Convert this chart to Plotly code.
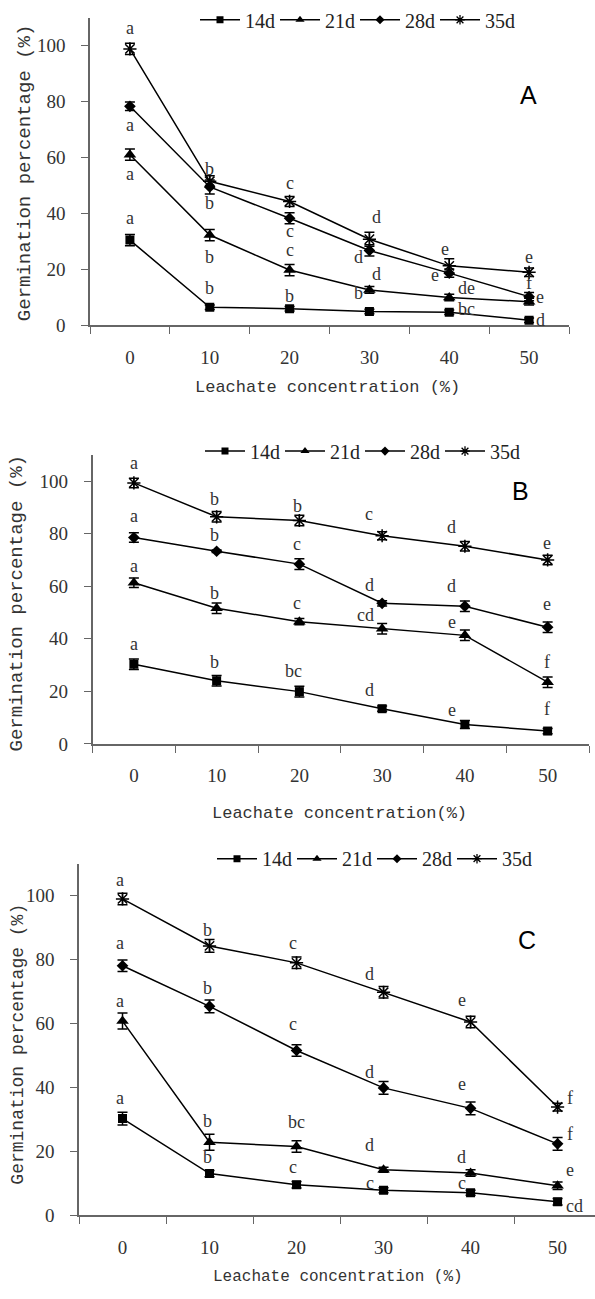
import plotly.graph_objects as go

# ---------------- data ----------------
conc = ["0", "10", "20", "30", "40", "50"]
series_names = ["14d", "21d", "28d", "35d"]

# Panel A
a_14 = [30.5, 6.5, 6.0, 5.0, 4.7, 1.9]
a_21 = [61.0, 32.3, 19.8, 12.7, 10.0, 8.5]
a_28 = [78.3, 49.5, 38.3, 26.8, 18.7, 10.3]
a_35 = [98.8, 51.5, 44.3, 30.8, 21.3, 19.0]
a_14_err = [2.0, 0.8, 0.8, 0.8, 0.8, 0.8]
a_21_err = [2.0, 2.0, 2.0, 1.2, 1.2, 1.2]
a_28_err = [1.5, 2.5, 2.0, 2.0, 1.5, 1.5]
a_35_err = [2.0, 2.0, 1.8, 2.5, 2.5, 1.5]

# Panel B
b_14 = [30.3, 24.0, 19.9, 13.4, 7.4, 4.9]
b_21 = [61.3, 51.6, 46.5, 43.8, 41.3, 23.5]
b_28 = [78.5, 73.3, 68.4, 53.5, 52.4, 44.4]
b_35 = [99.3, 86.4, 85.0, 79.2, 75.2, 70.0]
b_14_err = [2.0, 2.0, 2.0, 1.0, 1.5, 1.0]
b_21_err = [1.8, 2.0, 1.2, 2.0, 2.0, 2.0]
b_28_err = [1.8, 0.5, 2.0, 1.0, 2.0, 2.0]
b_35_err = [1.8, 2.0, 2.0, 1.5, 1.8, 1.8]

# Panel C
c_14 = [30.3, 13.1, 9.6, 7.9, 7.1, 4.3]
c_21 = [60.8, 22.9, 21.6, 14.3, 13.3, 9.3]
c_28 = [78.1, 65.4, 51.6, 39.9, 33.5, 22.4]
c_35 = [99.0, 84.3, 79.0, 69.8, 60.5, 33.9]
c_14_err = [2.0, 1.0, 1.0, 0.8, 0.8, 1.0]
c_21_err = [2.5, 2.5, 1.8, 0.8, 1.0, 1.2]
c_28_err = [1.8, 2.0, 1.8, 2.0, 2.0, 2.0]
c_35_err = [1.8, 2.0, 1.8, 1.8, 1.8, 1.2]

# significance letters: (category index, y value, text, x shift px)
a_letters = [
    (0, 106.4, "a", 0), (0, 71.7, "a", 0), (0, 54.0, "a", 0), (0, 38.5, "a", 0),
    (1, 56.0, "b", 0), (1, 43.7, "b", 0), (1, 24.4, "b", 0), (1, 13.4, "b", 0),
    (2, 51.0, "c", 0), (2, 33.8, "c", 0), (2, 27.0, "c", 0), (2, 10.6, "b", 0),
    (3, 38.9, "d", 7), (3, 24.4, "d", -11), (3, 18.3, "d", 7), (3, 11.6, "b", -11),
    (4, 27.2, "e", -4), (4, 18.0, "e", -14), (4, 13.4, "de", 17), (4, 6.0, "bc", 17),
    (5, 24.4, "e", 0), (5, 15.2, "f", 0), (5, 10.2, "e", 11), (5, 2.0, "d", 11),
]
b_letters = [
    (0, 106.9, "a", 0), (0, 86.8, "a", 0), (0, 67.7, "a", 0), (0, 37.9, "a", 0),
    (1, 93.0, "b", -2), (1, 79.3, "b", -2), (1, 57.3, "b", -2), (1, 31.2, "b", -2),
    (2, 90.6, "b", -2), (2, 76.1, "c", -2), (2, 53.6, "c", -2), (2, 27.9, "bc", -6),
    (3, 87.4, "c", -13), (3, 60.5, "d", -13), (3, 49.2, "cd", -17), (3, 20.6, "d", -13),
    (4, 82.4, "d", -13), (4, 60.1, "d", -13), (4, 46.3, "e", -13), (4, 12.8, "e", -13),
    (5, 76.4, "e", -1), (5, 53.3, "e", -1), (5, 31.2, "f", -1), (5, 13.2, "f", -1),
]
c_letters = [
    (0, 104.9, "a", -3), (0, 85.3, "a", -3), (0, 67.2, "a", -3), (0, 36.8, "a", -3),
    (1, 89.4, "b", -2), (1, 71.0, "b", -2), (1, 29.4, "b", -2), (1, 18.3, "b", -2),
    (2, 85.3, "c", -4), (2, 60.0, "c", -4), (2, 29.1, "bc", 0), (2, 15.2, "c", -4),
    (3, 75.5, "d", -14), (3, 44.9, "d", -14), (3, 21.9, "d", -14), (3, 10.2, "c", -14),
    (4, 67.4, "e", -9), (4, 41.0, "e", -9), (4, 18.3, "d", -9), (4, 10.2, "c", -9),
    (5, 36.8, "f", 12), (5, 25.5, "f", 12), (5, 14.1, "e", 12), (5, 3.0, "cd", 17),
]

panel_labels = ["A", "B", "C"]
y_ticks = [0, 20, 40, 60, 80, 100]
x_title_texts = ["Leachate concentration (%)", "Leachate concentration(%)", "Leachate concentration (%)"]
y_title_text = "Germination percentage (%)"

# ---------------- styling ----------------
W, H = 595, 1299
symbols = ["square", "triangle-up", "diamond", "asterisk-open"]
msizes = [9, 11, 9, 11]
leg_msizes = [7, 8, 7, 8]
serif = "Liberation Serif"
mono = "Liberation Mono"
axis_col = "#666666"

def px_x(p):
    return p / W

def px_y(p):
    return 1 - p / H

panels = [
    dict(xl=90, xr=569, y0=326, yt=14.7, xmax=5.5,
         leg=(195, 17), ytitle=(25, 172), xtitle=(327, 389), lab=(528, 93), yfs=19, xfs=17),
    dict(xl=92.5, xr=589, y0=749, yt=456.7, xmax=5.5,
         leg=(200, 453), ytitle=(17, 607), xtitle=(339, 819), lab=(520, 493), yfs=19, xfs=17),
    dict(xl=79, xr=595, y0=1225.7, yt=870.1, xmax=5.43,
         leg=(212, 865), ytitle=(18, 1053), xtitle=(338, 1288), lab=(527, 947), yfs=18, xfs=16),
]

data_sets = [
    ([a_14, a_21, a_28, a_35], [a_14_err, a_21_err, a_28_err, a_35_err], a_letters),
    ([b_14, b_21, b_28, b_35], [b_14_err, b_21_err, b_28_err, b_35_err], b_letters),
    ([c_14, c_21, c_28, c_35], [c_14_err, c_21_err, c_28_err, c_35_err], c_letters),
]

fig = go.Figure()
annotations = []
layout = dict(
    width=W, height=H,
    margin=dict(l=0, r=0, t=0, b=0),
    paper_bgcolor="white", plot_bgcolor="white",
    showlegend=True,
)

for i, (pan, (vals, errs, letters)) in enumerate(zip(panels, data_sets)):
    sfx = "" if i == 0 else str(i + 1)
    xa, ya = "x" + sfx, "y" + sfx
    leg = "legend" + sfx
    for k in range(4):
        fig.add_trace(go.Scatter(
            x=conc, y=vals[k], xaxis=xa, yaxis=ya, mode="lines+markers",
            name=series_names[k], showlegend=False,
            line=dict(color="black", width=1.5),
            marker=dict(symbol=symbols[k], size=msizes[k], color="black",
                        line=dict(color="black", width=1.5 if k == 3 else 0)),
            error_y=dict(type="data", array=errs[k], visible=True,
                         color="black", thickness=1.5, width=5),
        ))
    for k in range(4):
        fig.add_trace(go.Scatter(
            x=[None], y=[None], xaxis=xa, yaxis=ya, mode="lines+markers",
            name=series_names[k], legend=leg, showlegend=True,
            line=dict(color="black", width=1.5),
            marker=dict(symbol=symbols[k], size=leg_msizes[k], color="black",
                        line=dict(color="black", width=1.3 if k == 3 else 0)),
        ))
    layout["xaxis" + sfx] = dict(
        domain=[px_x(pan["xl"]), min(1.0, px_x(pan["xr"]))],
        anchor=ya, type="category", categoryorder="array", categoryarray=conc,
        range=[-0.5, pan["xmax"]], tickson="boundaries",
        ticks="outside", ticklen=7, tickcolor=axis_col, tickwidth=1.3,
        showline=True, linecolor=axis_col, linewidth=1.5,
        showgrid=False, zeroline=False,
        tickfont=dict(family=serif, size=19, color="#333333"),
        ticklabelstandoff=14,
    )
    layout["yaxis" + sfx] = dict(
        domain=[px_y(pan["y0"]), px_y(pan["yt"])],
        anchor=xa, range=[0, 110], tickvals=y_ticks,
        ticks="outside", ticklen=7, tickcolor=axis_col, tickwidth=1.3,
        showline=True, linecolor=axis_col, linewidth=1.5,
        showgrid=False, zeroline=False,
        tickfont=dict(family=serif, size=19, color="#333333"),
        ticklabelstandoff=12,
    )
    layout[leg] = dict(
        orientation="h", x=px_x(pan["leg"][0]), y=px_y(pan["leg"][1]),
        xanchor="left", yanchor="middle", bgcolor="rgba(0,0,0,0)",
        font=dict(family=serif, size=20, color="#222222"),
        entrywidth=25, entrywidthmode="pixels", itemwidth=40,
        tracegroupgap=0,
    )
    for (ci, yv, txt, dx) in letters:
        annotations.append(dict(
            x=ci, y=yv, xref=xa, yref=ya, text=txt, showarrow=False,
            xanchor="center", yanchor="middle",
            xshift=dx, font=dict(family=serif, size=18, color="#333333"),
        ))
    annotations.append(dict(
        x=px_x(pan["ytitle"][0]), y=px_y(pan["ytitle"][1]), xref="paper", yref="paper",
        xanchor="center", yanchor="middle",
        text=y_title_text, textangle=-90, showarrow=False,
        font=dict(family=mono, size=pan["yfs"], color="#333333"),
    ))
    annotations.append(dict(
        x=px_x(pan["xtitle"][0]), y=px_y(pan["xtitle"][1]), xref="paper", yref="paper",
        xanchor="center", yanchor="middle",
        text=x_title_texts[i], showarrow=False,
        font=dict(family=mono, size=pan["xfs"], color="#333333"),
    ))
    annotations.append(dict(
        x=px_x(pan["lab"][0]), y=px_y(pan["lab"][1]), xref="paper", yref="paper",
        xanchor="center", yanchor="middle",
        text=panel_labels[i], showarrow=False,
        font=dict(family="Liberation Sans", size=25, color="black"),
    ))

layout["annotations"] = annotations
fig.update_layout(**layout)
fig.write_html(
    "out.html",
    config={"displayModeBar": False},
    post_script="document.body.style.margin='0px';document.body.style.overflow='hidden';",
)
